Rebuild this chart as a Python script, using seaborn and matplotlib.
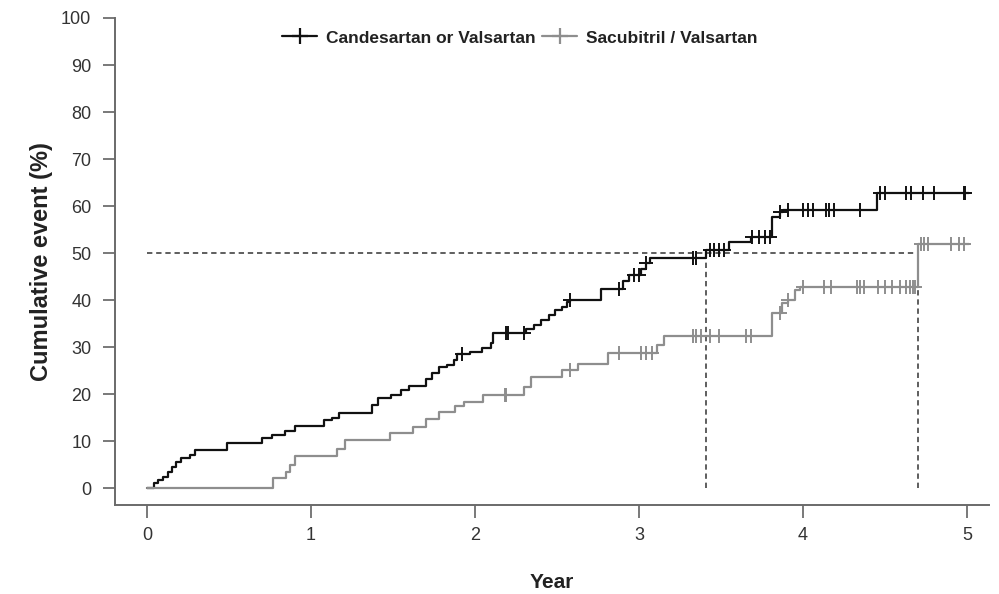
import numpy as np
import pandas as pd
import matplotlib
matplotlib.use("Agg")
import matplotlib.pyplot as plt
import seaborn as sns

# Cumulative event curves (step-post): event times in years and cumulative %
cv_times = [0.00, 0.04, 0.07, 0.10, 0.13, 0.15, 0.18, 0.21, 0.26, 0.29, 0.49, 0.70,
            0.76, 0.84, 0.90, 1.08, 1.13, 1.17, 1.37, 1.41, 1.49, 1.55, 1.60, 1.70,
            1.74, 1.78, 1.83, 1.87, 1.89, 1.97, 2.04, 2.10, 2.11, 2.31, 2.36, 2.40,
            2.45, 2.49, 2.53, 2.56, 2.58, 2.77, 2.90, 2.94, 3.01, 3.04, 3.07, 3.41,
            3.55, 3.68, 3.81, 3.86, 3.88, 4.45]
cv_values = [0.0, 1.0, 1.7, 2.4, 3.5, 4.5, 5.6, 6.3, 7.0, 8.1, 9.5, 10.6,
             11.3, 12.2, 13.2, 14.5, 15.0, 15.9, 17.7, 19.1, 19.8, 20.9, 21.7, 23.3,
             24.4, 25.7, 26.2, 27.2, 28.5, 29.0, 29.7, 30.9, 32.9, 33.8, 34.7, 35.7,
             36.8, 37.8, 38.6, 39.5, 40.1, 42.3, 44.0, 45.3, 46.7, 47.8, 48.9, 50.6,
             52.4, 53.4, 57.7, 58.8, 59.2, 62.7]
cv_censored = [1.92, 2.19, 2.20, 2.30, 2.58, 2.88, 2.97, 3.00, 3.04, 3.33, 3.35, 3.43,
               3.46, 3.49, 3.52, 3.69, 3.73, 3.77, 3.80, 3.86, 3.91, 4.00, 4.03, 4.06,
               4.14, 4.16, 4.19, 4.35, 4.47, 4.50, 4.63, 4.66, 4.73, 4.80, 4.98, 4.99]
cv_end = 5.01

sv_times = [0.00, 0.77, 0.85, 0.87, 0.90, 1.16, 1.21, 1.48, 1.62, 1.70, 1.78, 1.88,
            1.93, 2.05, 2.30, 2.34, 2.53, 2.63, 2.81, 3.11, 3.15, 3.81, 3.87, 3.91,
            3.95, 3.98, 4.70]
sv_values = [0.0, 2.2, 3.5, 5.0, 6.8, 8.4, 10.2, 11.8, 13.0, 14.8, 16.2, 17.4,
             18.4, 19.8, 21.6, 23.7, 25.1, 26.5, 28.7, 30.4, 32.4, 37.2, 39.3, 40.0,
             42.1, 42.8, 52.0]
sv_censored = [2.18, 2.19, 2.58, 2.88, 3.01, 3.04, 3.08, 3.33, 3.35, 3.38, 3.43, 3.49,
               3.65, 3.68, 3.86, 3.91, 4.00, 4.13, 4.17, 4.33, 4.35, 4.37, 4.46, 4.50,
               4.54, 4.59, 4.63, 4.65, 4.67, 4.68, 4.72, 4.74, 4.76, 4.90, 4.95, 4.98]
sv_end = 5.01

groups = ["Candesartan or Valsartan", "Sacubitril / Valsartan"]
colors = ["#111111", "#8e8e8e"]
x_ticks = [0, 1, 2, 3, 4, 5]
y_ticks = list(range(0, 101, 10))

sns.set_theme(style="ticks")
plt.rcParams["font.family"] = ["Liberation Sans", "DejaVu Sans"]

fig = plt.figure(figsize=(9.99, 5.94), dpi=100)
ax = fig.add_axes([0.1151, 0.1498, 0.8749, 0.8199])

def step_value(times, values, t):
    idx = np.searchsorted(times, t, side="right") - 1
    return np.asarray(values)[idx]

curves = [(cv_times, cv_values, cv_censored, cv_end),
          (sv_times, sv_values, sv_censored, sv_end)]
medians = []
for (times, values, cens, end), name, col in zip(curves, groups, colors):
    df = pd.DataFrame({"year": list(times) + [end],
                       "pct": list(values) + [values[-1]]})
    sns.lineplot(data=df, x="year", y="pct", ax=ax, color=col, lw=1.6,
                 drawstyle="steps-post", estimator=None, sort=False,
                 label=None)
    cdf = pd.DataFrame({"year": cens,
                        "pct": step_value(times, values, np.asarray(cens))})
    ax.plot(cdf["year"], cdf["pct"], linestyle="none", marker="+",
            markersize=9.5, markeredgewidth=1.4, color=col)
    # legend proxy
    ax.plot([], [], color=col, lw=1.6, marker="+", markersize=11,
            markeredgewidth=1.6, label=name)
    t_arr = np.asarray(times)
    v_arr = np.asarray(values)
    medians.append(t_arr[np.argmax(v_arr >= 50)])

# median reference lines
dash_kw = dict(color="#333333", lw=1.1, linestyle=(0, (3.5, 2.5)), zorder=1)
ax.plot([0, max(medians)], [50, 50], **dash_kw)
for m in medians:
    ax.plot([m, m], [0, 50], **dash_kw)

ax.set_xlim(-0.195, 5.134)
ax.set_ylim(-3.6, 100)
ax.set_xticks(x_ticks)
ax.set_yticks(y_ticks)
ax.set_xticklabels([str(v) for v in x_ticks])
ax.set_yticklabels([str(v) for v in y_ticks])

for side in ["top", "right"]:
    ax.spines[side].set_visible(False)
for side in ["left", "bottom"]:
    ax.spines[side].set_color("#6a6a6a")
    ax.spines[side].set_linewidth(1.4)
ax.tick_params(axis="both", colors="#555555", length=9, width=1.1,
               labelsize=13, labelcolor="#333333")
ax.tick_params(axis="x", pad=7)
ax.tick_params(axis="y", pad=8)

ax.set_xlabel("Year", fontsize=15, fontweight="bold", color="#222222", labelpad=21)
ax.set_ylabel("Cumulative event (%)", fontsize=17, fontweight="bold",
              color="#222222", labelpad=6)

leg = ax.legend(loc="center", bbox_to_anchor=(0.463, 0.959), ncol=2, frameon=False,
                handlelength=2.0, handletextpad=0.5, columnspacing=0.4,
                prop={"weight": "bold", "size": 12.5})
for txt in leg.get_texts():
    txt.set_color("#222222")

fig.savefig("out.png", dpi=100)
